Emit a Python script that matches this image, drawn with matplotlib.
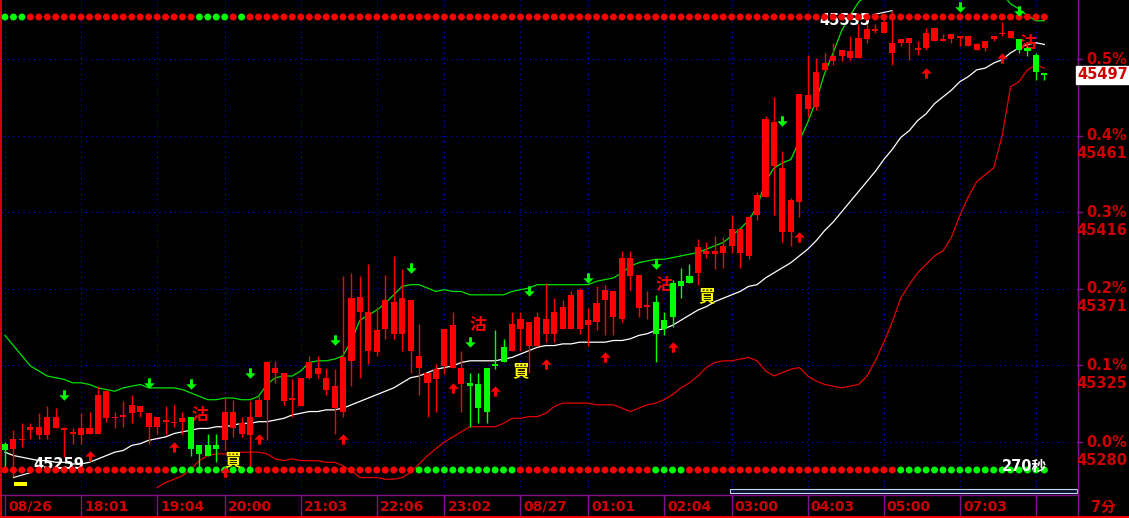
import numpy as np
import matplotlib
matplotlib.use("Agg")
import matplotlib.pyplot as plt
import matplotlib.transforms as mtransforms
from matplotlib.path import Path
from matplotlib.patches import Rectangle

# 7-minute bars, 08/26 evening session -> 08/27 morning
base_price = 45280  # 0.0% reference

opens = [45279, 45276, 45281, 45287, 45284, 45284, 45288, 45287, 45285, 45284,
         45285, 45285, 45294, 45294, 45295, 45297, 45298, 45289, 45289, 45292,
         45291, 45292, 45295, 45278, 45278, 45278, 45281, 45288, 45285, 45284,
         45295, 45305, 45321, 45304, 45305, 45301, 45318, 45320, 45311, 45300,
         45298, 45328, 45357, 45334, 45333, 45347, 45344, 45344, 45334, 45324,
         45315, 45317, 45325, 45324, 45314, 45315, 45314, 45324, 45326, 45336,
         45334, 45347, 45337, 45337, 45344, 45344, 45347, 45347, 45347, 45349,
         45351, 45364, 45354, 45353, 45378, 45359, 45360, 45363, 45352, 45374,
         45375, 45378, 45380, 45391, 45391, 45392, 45396, 45392, 45390, 45414,
         45425, 45443, 45404, 45404, 45422, 45477, 45478, 45500, 45505, 45508,
         45507, 45507, 45518, 45523, 45522, 45510, 45516, 45516, 45512, 45513,
         45517, 45517, 45518, 45519, 45514, 45512, 45513, 45518, 45521, 45519,
         45518, 45513, 45509, 45498]
highs = [45280, 45287, 45291, 45291, 45297, 45301, 45300, 45289, 45288, 45297,
         45298, 45313, 45311, 45298, 45304, 45308, 45301, 45297, 45295, 45301,
         45302, 45298, 45295, 45278, 45285, 45285, 45306, 45305, 45295, 45304,
         45307, 45328, 45328, 45321, 45317, 45318, 45331, 45331, 45324, 45323,
         45378, 45380, 45378, 45385, 45360, 45379, 45390, 45382, 45364, 45350,
         45321, 45326, 45347, 45357, 45334, 45321, 45321, 45324, 45346, 45341,
         45357, 45357, 45351, 45357, 45374, 45365, 45364, 45369, 45371, 45359,
         45372, 45373, 45369, 45393, 45393, 45379, 45369, 45367, 45357, 45376,
         45383, 45385, 45400, 45398, 45402, 45401, 45414, 45406, 45413, 45428,
         45473, 45484, 45452, 45424, 45486, 45509, 45507, 45510, 45516, 45512,
         45520, 45527, 45527, 45527, 45531, 45535, 45518, 45519, 45517, 45525,
         45525, 45521, 45521, 45520, 45520, 45516, 45517, 45520, 45528, 45523,
         45518, 45514, 45510, 45498]
lows = [45265, 45259, 45277, 45282, 45282, 45282, 45288, 45271, 45279, 45279,
        45285, 45285, 45292, 45288, 45289, 45291, 45295, 45279, 45285, 45285,
        45289, 45285, 45272, 45265, 45272, 45268, 45275, 45283, 45283, 45263,
        45295, 45281, 45315, 45302, 45295, 45301, 45317, 45318, 45308, 45285,
        45295, 45313, 45318, 45326, 45331, 45341, 45341, 45334, 45321, 45308,
        45295, 45298, 45320, 45324, 45298, 45289, 45291, 45291, 45323, 45327,
        45334, 45334, 45321, 45337, 45339, 45339, 45347, 45347, 45344, 45337,
        45346, 45343, 45343, 45351, 45370, 45354, 45353, 45327, 45343, 45348,
        45365, 45374, 45373, 45389, 45382, 45383, 45392, 45383, 45388, 45411,
        45425, 45414, 45398, 45396, 45413, 45472, 45476, 45500, 45503, 45505,
        45506, 45507, 45516, 45522, 45522, 45503, 45514, 45506, 45509, 45512,
        45517, 45517, 45516, 45514, 45514, 45512, 45511, 45517, 45520, 45519,
        45510, 45508, 45494, 45494]
closes = [45275, 45282, 45282, 45289, 45289, 45295, 45295, 45288, 45286, 45288,
          45288, 45308, 45310, 45295, 45296, 45302, 45301, 45297, 45295, 45293,
          45292, 45294, 45276, 45273, 45272, 45276, 45298, 45298, 45291, 45295,
          45305, 45327, 45324, 45321, 45306, 45318, 45327, 45324, 45318, 45313,
          45330, 45365, 45366, 45357, 45346, 45364, 45363, 45365, 45364, 45331,
          45321, 45323, 45347, 45349, 45324, 45313, 45300, 45298, 45325, 45327,
          45350, 45353, 45351, 45354, 45353, 45357, 45360, 45367, 45370, 45352,
          45362, 45370, 45369, 45389, 45389, 45379, 45361, 45344, 45347, 45354,
          45372, 45374, 45395, 45393, 45393, 45396, 45406, 45406, 45413, 45426,
          45471, 45469, 45442, 45423, 45486, 45485, 45499, 45504, 45508, 45512,
          45511, 45519, 45524, 45524, 45528, 45516, 45518, 45519, 45513, 45522,
          45525, 45518, 45521, 45520, 45520, 45515, 45517, 45520, 45522, 45523,
          45512, 45511, 45499, 45497]

# moving average (white) and bands (green upper, red lower)
ma_line = [45274, 45272, 45271, 45270, 45269, 45269, 45268, 45268, 45267, 45267,
           45268, 45270, 45272, 45274, 45275, 45278, 45279, 45281, 45282, 45283,
           45285, 45286, 45287, 45288, 45288, 45289, 45289, 45290, 45291, 45291,
           45292, 45292, 45293, 45294, 45296, 45297, 45298, 45298, 45299, 45299,
           45300, 45302, 45304, 45306, 45308, 45310, 45312, 45315, 45318, 45319,
           45321, 45323, 45324, 45325, 45327, 45328, 45328, 45328, 45328, 45329,
           45330, 45332, 45334, 45336, 45337, 45337, 45338, 45338, 45339, 45339,
           45339, 45339, 45340, 45340, 45341, 45343, 45344, 45346, 45347, 45349,
           45352, 45355, 45358, 45360, 45363, 45365, 45367, 45369, 45372, 45373,
           45377, 45380, 45383, 45386, 45390, 45394, 45399, 45405, 45410, 45416,
           45422, 45428, 45434, 45440, 45447, 45453, 45460, 45464, 45470, 45474,
           45480, 45484, 45488, 45493, 45496, 45500, 45501, 45504, 45506, 45510,
           45513, 45515, 45516, 45515]
upper_band = [45343, 45337, 45331, 45325, 45322, 45319, 45318, 45317, 45315, 45315,
              45314, 45312, 45311, 45310, 45312, 45313, 45314, 45312, 45312, 45312,
              45312, 45311, 45309, 45307, 45305, 45305, 45306, 45306, 45305, 45305,
              45307, 45314, 45318, 45319, 45319, 45322, 45327, 45328, 45328, 45329,
              45331, 45340, 45352, 45355, 45358, 45362, 45367, 45372, 45373, 45373,
              45371, 45369, 45370, 45369, 45369, 45367, 45367, 45367, 45367, 45367,
              45369, 45370, 45371, 45373, 45373, 45373, 45373, 45373, 45373, 45373,
              45375, 45376, 45377, 45380, 45384, 45386, 45387, 45388, 45388, 45389,
              45390, 45391, 45392, 45394, 45396, 45398, 45402, 45406, 45411, 45419,
              45434, 45442, 45445, 45447, 45458, 45469, 45482, 45498, 45510, 45523,
              45532, 45540, 45544, 45550, 45554, 45558, 45560, 45562, 45563, 45563,
              45563, 45563, 45562, 45560, 45558, 45555, 45552, 45548, 45545, 45539,
              45536, 45532, 45529, 45529]
lower_band = [None] * 18 + [
    45253, 45256, 45258, 45260, 45264, 45269, 45272, 45273, 45273, 45273,
    45274, 45274, 45274, 45273, 45270, 45269, 45270, 45269, 45269, 45269,
    45268, 45268, 45266, 45263, 45259, 45259, 45259, 45258, 45258, 45259,
    45262, 45267, 45272, 45276, 45280, 45283, 45286, 45289, 45289, 45289,
    45289, 45291, 45294, 45294, 45295, 45295, 45297, 45301, 45303, 45303,
    45303, 45303, 45302, 45302, 45302, 45300, 45298, 45300, 45302, 45303,
    45305, 45308, 45312, 45315, 45319, 45324, 45327, 45328, 45328, 45329,
    45330, 45328, 45322, 45319, 45321, 45323, 45324, 45319, 45316, 45314,
    45313, 45312, 45313, 45314, 45319, 45328, 45339, 45351, 45365, 45373,
    45380, 45385, 45390, 45393, 45401, 45414, 45425, 45434, 45438, 45442,
    45461, 45490, 45493, 45500, 45503, 45501]

# signal dot rows: g = green, r = red, one per bar
top_dots = "ggg" + "r" * 20 + "gggg" + "r" + "g" + "r" * 95
bottom_dots = ("r" * 20 + "g" * 10 + "r" * 19 + "g" * 12 + "r" * 16
               + "g" * 4 + "r" * 25 + "g" * 18)

# arrows
down_arrow_bars = [7, 17, 22, 29, 39, 48, 55, 62, 69, 77, 92, 113, 120]
down_arrow_prices = [45308, 45315, 45314, 45321, 45340, 45383, 45339, 45369,
                     45377, 45385, 45470, 45537, 45535]
up_arrow_bars = [10, 20, 26, 30, 40, 53, 58, 64, 71, 79, 94, 109, 118]
up_arrow_prices = [45272, 45277, 45262, 45282, 45282, 45312, 45310, 45326,
                   45330, 45336, 45401, 45498, 45507]

# text signals
sell_bars = [23, 56, 78, 121]
sell_prices = [45296, 45349, 45373, 45516]
buy_bars = [27, 61, 83]
buy_prices = [45269, 45322, 45366]

tick_bars = [0, 9, 18, 26, 35, 44, 52, 61, 69, 78, 86, 95, 104, 113, 122]
tick_labels = ['08/26', '18:01', '19:04', '20:00', '21:03', '22:06', '23:02',
               '08/27', '01:01', '02:04', '03:00', '04:03', '05:00', '07:03', '']
pct_levels = [0.0, 0.1, 0.2, 0.3, 0.4, 0.5]

RED = '#ff0000'
GREEN = '#00ff00'
TXT = '#cc0000'
BLUE = '#0000d0'
PURPLE = '#82108c'
CJK = ['DejaVu Sans', 'Noto Sans CJK TC']

W, H = 1129, 518
fig = plt.figure(figsize=(W / 100, H / 100), dpi=100, facecolor='black')

over = fig.add_axes([0, 0, 1, 1], zorder=0)
over.set_xlim(0, W)
over.set_ylim(H, 0)
over.axis('off')

ax = fig.add_axes([2 / W, 1 - 492 / H, 1075 / W, 492 / H], zorder=1)
ax.axis('off')
ax.set_facecolor('none')

pts_per_px = base_price * 0.001 / 76.6
ax.set_ylim(base_price - 50 * pts_per_px, base_price + 442 * pts_per_px)
ax.set_xlim(-0.355, 126.86)

n = len(closes)
idx = np.arange(n)
o = np.array(opens)
c = np.array(closes)
colors = [RED if cc >= oo else GREEN for oo, cc in zip(o, c)]

# grid
for b in tick_bars:
    ax.axvline(b, color=BLUE, lw=0.8, ls=(0, (1.2, 3.5)), zorder=0)
for p in pct_levels:
    ax.axhline(base_price * (1 + p / 100), color=BLUE, lw=0.8, ls=(0, (1.2, 3.5)), zorder=0)

# bands and MA
ax.plot(idx, np.array(lower_band, dtype=float), color='#e00000', lw=0.9, zorder=2)
ax.plot(idx, upper_band, color='#00e000', lw=0.9, zorder=2)
ax.plot(idx, ma_line, color='white', lw=0.9, zorder=2)

# signal text
for b, p in zip(sell_bars, sell_prices):
    ax.text(b, p, '沽', color=RED, fontsize=12, fontweight='bold', ha='center',
            va='center', family=['Noto Sans CJK TC'], zorder=2.5)
for b, p in zip(buy_bars, buy_prices):
    ax.text(b, p, '買', color='#ffff00', fontsize=12, fontweight='bold', ha='center',
            va='center', family=['Noto Sans CJK TC'], zorder=6)

# candles
ax.vlines(idx, lows, highs, colors=colors, lw=1.0, zorder=3)
body = np.maximum(np.abs(c - o), 0.8)
ax.bar(idx, body, bottom=np.minimum(o, c), width=0.72, color=colors, lw=0, zorder=3)

# arrows
verts = [(-0.14, 0.5), (0.14, 0.5), (0.14, 0.02), (0.5, 0.02), (0, -0.5),
         (-0.5, 0.02), (-0.14, 0.02), (-0.14, 0.5)]
down_path = Path(verts, closed=True)
up_path = Path([(x, -y) for x, y in verts], closed=True)
ax.plot(down_arrow_bars, down_arrow_prices, ls='none', marker=down_path,
        markersize=7.5, color=GREEN, mew=0, zorder=6, clip_on=False)
ax.plot(up_arrow_bars, up_arrow_prices, ls='none', marker=up_path,
        markersize=7.5, color=RED, mew=0, zorder=6)

# high / low labels
hi = int(np.argmax(highs))
lo = int(np.argmin(lows))
ax.annotate(str(highs[hi]), xy=(hi, highs[hi]), xytext=(-22, -10),
            textcoords='offset pixels', ha='right', va='center', color='white',
            fontsize=10.5, fontweight='bold', zorder=4,
            arrowprops=dict(arrowstyle='-', color='white', lw=0.8, shrinkA=0, shrinkB=0))
ax.annotate(str(lows[lo]), xy=(lo, lows[lo]), xytext=(20, 13),
            textcoords='offset pixels', ha='left', va='center', color='white',
            fontsize=10.5, fontweight='bold', zorder=4,
            arrowprops=dict(arrowstyle='-', color='white', lw=0.8, shrinkA=0, shrinkB=0))

# dot rows
row_tr = mtransforms.blended_transform_factory(ax.transData, ax.transAxes)
cmap = {'g': GREEN, 'r': RED}
ax.scatter(idx, np.full(n, 1 - 17 / 492), s=25, c=[cmap[k] for k in top_dots],
           lw=0, transform=row_tr, zorder=5, clip_on=False)
ax.scatter(idx, np.full(n, 1 - 470 / 492), s=25, c=[cmap[k] for k in bottom_dots],
           lw=0, transform=row_tr, zorder=5)
ax.text(0.951, 1 - 467 / 492, '270秒', transform=ax.transAxes, ha='center', va='center',
        color='white', fontsize=10.5, fontweight='bold', family=CJK, zorder=6)

# time axis
xt = mtransforms.blended_transform_factory(ax.transData, fig.transFigure)
for b, lab in zip(tick_bars, tick_labels):
    ax.plot([b, b], [1 - 495 / H, 1 - 515 / H], transform=xt, color=PURPLE, lw=1,
            clip_on=False, zorder=1)
    ax.annotate(lab, xy=(b, 1 - 507 / H), xycoords=('data', 'figure fraction'),
                xytext=(3, 0), textcoords='offset pixels', ha='left', va='center',
                color=TXT, fontsize=10, fontweight='bold', annotation_clip=False)

# price axis
yt = mtransforms.blended_transform_factory(fig.transFigure, ax.transData)
for p in pct_levels:
    price = base_price * (1 + p / 100)
    ax.plot([1077 / W, 1082 / W], [price, price], transform=yt, color=PURPLE, lw=1,
            clip_on=False)
    ax.annotate(f'{p:.1f}%', xy=(1127 / W, price), xycoords=('figure fraction', 'data'),
                ha='right', va='center', color=TXT, fontsize=10.5, fontweight='bold',
                annotation_clip=False)
    ax.annotate(f'{round(price)}', xy=(1127 / W, price), xycoords=('figure fraction', 'data'),
                xytext=(0, -18), textcoords='offset pixels', ha='right', va='center',
                color=TXT, fontsize=10.5, fontweight='bold', annotation_clip=False)
ax.annotate(str(closes[-1]), xy=(1103 / W, closes[-1]), xycoords=('figure fraction', 'data'),
            ha='center', va='center', color=TXT, fontsize=10.5, fontweight='bold',
            annotation_clip=False, zorder=10,
            bbox=dict(boxstyle='square,pad=0.12', fc='white', ec='white'))

# frame pieces
over.plot([1077.5, 1077.5], [0, H], color=PURPLE, lw=1)
over.plot([0, 1077.5], [495, 495], color=PURPLE, lw=1)
over.plot([0, W], [516.5, 516.5], color=RED, lw=1.5)
over.plot([0.7, 0.7], [0, 517], color=RED, lw=1.2)
over.add_patch(Rectangle((730, 488.5), 347, 4.5, fc='#0a1430', ec='#c8d4f0', lw=0.8))
over.add_patch(Rectangle((14, 482), 13, 4, fc='#ffff00', ec='none'))
over.text(1103, 507, '7分', color=TXT, ha='center', va='center', fontsize=10.5,
          fontweight='bold', family=CJK)

fig.savefig('out.png', dpi=100, facecolor='black')
